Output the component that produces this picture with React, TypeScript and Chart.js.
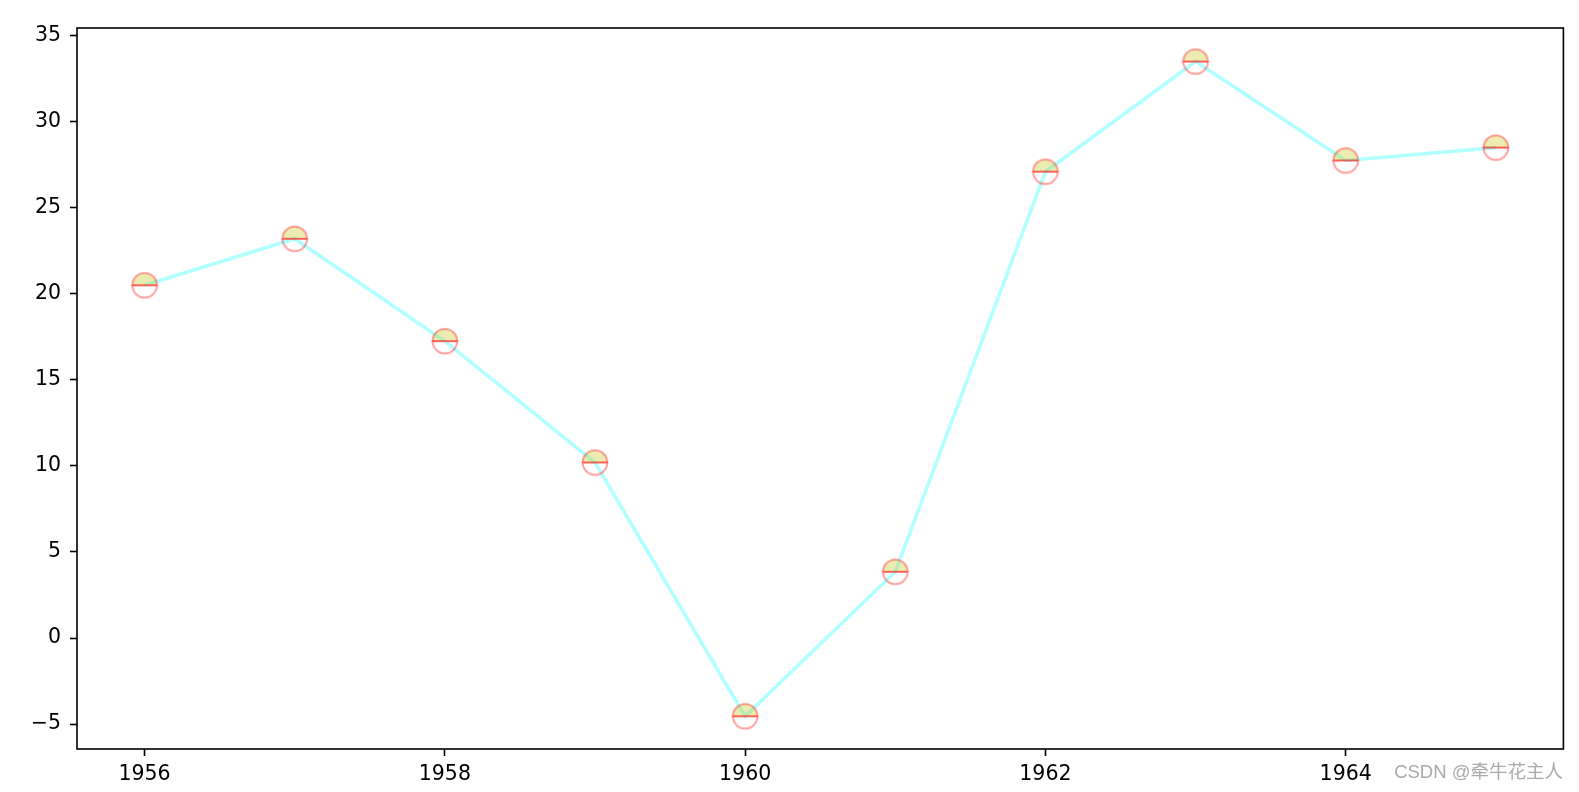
import React, { useEffect, useRef } from "react";
import { Chart, registerables } from "chart.js";

Chart.register(...registerables);

const years = [1956, 1957, 1958, 1959, 1960, 1961, 1962, 1963, 1964, 1965];
const values = [20.5, 23.2, 17.25, 10.2, -4.55, 3.85, 27.1, 33.5, 27.75, 28.5];
const xTicks = [1956, 1958, 1960, 1962, 1964];
const yTicks = [-5, 0, 5, 10, 15, 20, 25, 30, 35];
const watermark = "CSDN @牵牛花主人";

function makeMarker(): HTMLCanvasElement {
  const size = 30;
  const r = 12.3;
  const c = document.createElement("canvas");
  c.width = size;
  c.height = size;
  const ctx = c.getContext("2d")!;
  const cx = size / 2;
  const cy = size / 2;
  ctx.beginPath();
  ctx.arc(cx, cy, r, Math.PI, 2 * Math.PI);
  ctx.closePath();
  ctx.fillStyle = "rgba(191,191,0,0.3)";
  ctx.fill();
  ctx.lineWidth = 2;
  ctx.strokeStyle = "rgba(255,0,0,0.37)";
  ctx.stroke();
  ctx.beginPath();
  ctx.arc(cx, cy, r, 0, Math.PI);
  ctx.closePath();
  ctx.stroke();
  return c;
}

const framePlugin = {
  id: "frame",
  afterDraw(chart: any) {
    const { ctx, chartArea } = chart;
    ctx.save();
    ctx.strokeStyle = "#000";
    ctx.lineWidth = 1.6;
    ctx.strokeRect(chartArea.left, chartArea.top, chartArea.right - chartArea.left, chartArea.bottom - chartArea.top);
    ctx.restore();
  },
};

export default function App() {
  const ref = useRef<HTMLCanvasElement>(null);
  useEffect(() => {
    document.body.style.margin = "0";
    const marker = makeMarker();
    const chart = new Chart(ref.current!, {
      type: "line",
      data: {
        datasets: [
          {
            data: years.map((y, i) => ({ x: y, y: values[i] })),
            borderColor: "rgba(0,255,255,0.3)",
            borderWidth: 3.6,
            pointStyle: marker as any,
            pointRadius: 12,
            tension: 0,
          },
        ],
      },
      options: {
        animation: false,
        responsive: false,
        plugins: { legend: { display: false }, tooltip: { enabled: false } },
        layout: { padding: { left: 0, top: 28, right: 14, bottom: 0 } },
        scales: {
          x: {
            type: "linear",
            min: 1955.55,
            max: 1965.45,
            afterBuildTicks: (s: any) => {
              s.ticks = xTicks.map((v) => ({ value: v }));
            },
            afterFit: (s: any) => {
              s.height = 43;
            },
            grid: { drawOnChartArea: false, tickLength: 7, tickColor: "#000", tickWidth: 1.6 },
            border: { display: false },
            ticks: {
              color: "#000",
              font: { family: "DejaVu Sans", size: 20.5 },
              padding: 6,
              maxRotation: 0,
              callback: (v: any) => String(v),
            },
          },
          y: {
            type: "linear",
            min: -6.45,
            max: 35.45,
            afterBuildTicks: (s: any) => {
              s.ticks = yTicks.map((v) => ({ value: v }));
            },
            afterFit: (s: any) => {
              s.width = 77;
            },
            grid: { drawOnChartArea: false, tickLength: 7, tickColor: "#000", tickWidth: 1.6 },
            border: { display: false },
            ticks: {
              color: "#000",
              font: { family: "DejaVu Sans", size: 20.5 },
              padding: 9,
              callback: (v: any) => (v < 0 ? "\u2212" + Math.abs(v) : String(v)),
            },
          },
        },
      },
      plugins: [framePlugin],
    });
    return () => chart.destroy();
  }, []);
  return (
    <div style={{ position: "relative", width: 1579, height: 792, background: "#fff" }}>
      <canvas ref={ref} width={1579} height={792} style={{ display: "block" }} />
      <div
        style={{
          position: "absolute",
          right: 16,
          top: 761,
          fontFamily: "'Liberation Sans', 'Noto Sans CJK SC', sans-serif",
          fontSize: 18.5,
          color: "#aaaaaa",
          whiteSpace: "nowrap",
          lineHeight: "22px",
        }}
      >
        {watermark}
      </div>
    </div>
  );
}
